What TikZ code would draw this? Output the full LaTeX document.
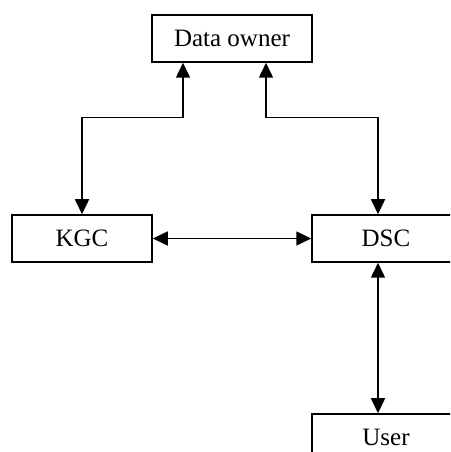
\documentclass[tikz,border=0pt]{standalone}
\usepackage{fontspec}
\setmainfont{Liberation Serif}
\usetikzlibrary{arrows.meta}
\begin{document}
\begin{tikzpicture}[x=1pt,y=1pt,
  box/.style={draw,line width=1.5pt,inner sep=0pt,minimum height=47pt,font=\fontsize{25}{30}\selectfont},
  biarrow/.style={line width=1.5pt,{Triangle[length=15pt,width=14pt]}-{Triangle[length=15pt,width=14pt]}}]
\clip (0,0) rectangle (450,452);
\useasboundingbox (0,0) rectangle (450,452);
\node[box,minimum width=160pt] (owner) at (232,413.5) {Data owner};
\node[box,minimum width=140pt] (kgc) at (82,213.5) {KGC};
\node[box,minimum width=148pt] (dsc) at (386,213.5) {DSC};
\node[box,minimum width=148pt] (user) at (386,14.5) {User};
\draw[biarrow] ([xshift=-49pt]owner.south) -- ++(0,-55) -| (kgc.north);
\draw[biarrow] ([xshift=34pt]owner.south) -- ++(0,-55) -| ([xshift=-8pt]dsc.north);
\draw[biarrow] (kgc.east) -- (dsc.west);
\draw[biarrow] ([xshift=-8pt]dsc.south) -- ([xshift=-8pt]user.north);
\end{tikzpicture}
\end{document}
